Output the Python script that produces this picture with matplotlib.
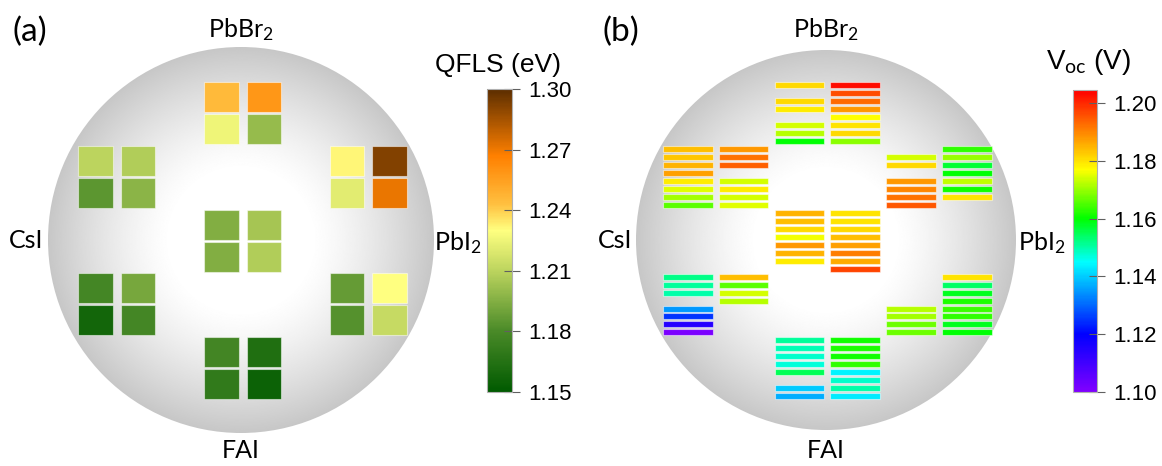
import numpy as np
import matplotlib
matplotlib.use("Agg")
import matplotlib.pyplot as plt
from matplotlib.colors import LinearSegmentedColormap, Normalize
from matplotlib.patches import Rectangle, Circle
from matplotlib.cm import ScalarMappable

plt.rcParams['mathtext.fontset'] = 'custom'
plt.rcParams['mathtext.rm'] = 'Lato'
plt.rcParams['mathtext.it'] = 'Lato:italic'

nan = np.nan

# ---- (a) QFLS (eV), each group is 2x2 cells [row][col] ----
qfls_top = [[1.245, 1.258], [1.225, 1.200]]
qfls_upper_left = [[1.210, 1.207], [1.185, 1.197]]
qfls_upper_right = [[1.232, 1.292], [1.221, 1.271]]
qfls_center = [[1.195, 1.204], [1.195, 1.207]]
qfls_lower_left = [[1.178, 1.192], [1.158, 1.178]]
qfls_lower_right = [[1.187, 1.230], [1.183, 1.213]]
qfls_bottom = [[1.177, 1.163], [1.170, 1.155]]

# ---- (b) Voc (V), each group is 8 strips x 2 columns, nan = missing ----
voc_top = [[1.181, 1.203], [nan, 1.196], [1.181, 1.193], [1.179, 1.188],
           [nan, 1.177], [1.174, 1.180], [1.172, 1.181], [1.160, 1.169]]
voc_upper_left = [[1.184, 1.188], [1.183, 1.192], [1.185, 1.194], [1.187, nan],
                  [1.179, 1.174], [1.175, 1.179], [1.171, 1.174], [1.166, 1.175]]
voc_upper_right = [[nan, 1.163], [1.174, 1.170], [1.181, 1.157], [nan, 1.160],
                   [1.188, 1.173], [1.190, 1.161], [1.192, 1.180], [1.195, nan]]
voc_center = [[1.185, 1.180], [1.184, 1.180], [1.181, 1.181], [1.176, 1.184],
              [1.188, 1.187], [1.185, 1.191], [1.179, 1.186], [nan, 1.197]]
voc_lower_left = [[1.152, 1.184], [1.151, 1.166], [1.150, 1.174], [nan, 1.172],
                  [1.135, nan], [1.125, nan], [1.114, nan], [1.101, nan]]
voc_lower_right = [[nan, 1.180], [nan, 1.154], [nan, 1.158], [nan, 1.162],
                   [1.172, 1.164], [1.171, 1.163], [1.167, 1.158], [1.167, 1.160]]
voc_bottom = [[1.151, 1.161], [1.149, 1.162], [1.148, 1.161], [1.147, 1.163],
              [1.155, 1.144], [nan, 1.148], [1.140, 1.150], [1.137, 1.143]]

qfls_groups = [qfls_top, qfls_upper_left, qfls_upper_right, qfls_center,
               qfls_lower_left, qfls_lower_right, qfls_bottom]
voc_groups = [voc_top, voc_upper_left, voc_upper_right, voc_center,
              voc_lower_left, voc_lower_right, voc_bottom]
# where each group sits on the wafer (block row, block column)
group_rows = [0, 1, 1, 2, 3, 3, 4]
group_cols = [1, 0, 2, 1, 0, 2, 1]

qfls_ticks = [1.15, 1.18, 1.21, 1.24, 1.27, 1.30]
voc_ticks = [1.10, 1.12, 1.14, 1.16, 1.18, 1.20]

# colour maps
cmap_a = LinearSegmentedColormap.from_list("qfls", [
    (0.0, "#005a00"), (0.2, "#4a8a28"), (0.4, "#bcd45e"), (0.533, "#ffff80"),
    (0.62, "#ffc040"), (0.78, "#ff8000"), (1.0, "#5c2e00")])
norm_a = Normalize(1.15, 1.30)
cmap_b = LinearSegmentedColormap.from_list("voc", [
    (0.0, "#8000ff"), (0.19, "#0000ff"), (0.43, "#00ffff"), (0.574, "#00ff00"),
    (0.737, "#ffff00"), (1.0, "#ff0000")])
norm_b = Normalize(1.10, 1.2045)

fig = plt.figure(figsize=(11.62, 4.66), dpi=100)
ax = fig.add_axes([0, 0, 1, 1])
ax.set_xlim(0, 1162)
ax.set_ylim(466, 0)
ax.axis("off")


def wafer(cx, cy, r):
    n = 500
    yy, xx = np.mgrid[-1:1:n * 1j, -1:1:n * 1j]
    d = np.sqrt(xx ** 2 + yy ** 2)
    s = np.clip((d - 0.36) / 0.64, 0, 1)
    shade = 1 - 0.22 * s ** 1.3
    im = ax.imshow(shade, cmap="gray", vmin=0, vmax=1,
                   extent=[cx - r, cx + r, cy + r, cy - r], zorder=1)
    im.set_clip_path(Circle((cx, cy), r, transform=ax.transData))


wafer(241, 240, 193)
wafer(826, 240, 190)

row_y0 = 82.0
row_pitch = 31.9

# (a) 2x2 cells
a_pair_x = [78, 204, 329.5]
a_col_step = 42.5
a_w, a_h = 34.5, 30.0
for g, cells in enumerate(qfls_groups):
    for i in range(2):
        for j in range(2):
            v = cells[i][j]
            x = a_pair_x[group_cols[g]] + j * a_col_step
            y = row_y0 + (2 * group_rows[g] + i) * row_pitch
            ax.add_patch(Rectangle((x, y), a_w, a_h, facecolor=cmap_a(norm_a(v)),
                                   edgecolor=(1, 1, 1, 0.5), lw=0.8, zorder=3))

# (b) strips
b_x0 = 663
b_col_step = 55.8
b_w, b_h = 49.5, 6.0
strip_pitch = row_pitch / 4
for g, strips in enumerate(voc_groups):
    for i in range(8):
        for j in range(2):
            v = strips[i][j]
            if np.isnan(v):
                continue
            x = b_x0 + (2 * group_cols[g] + j) * b_col_step
            y = row_y0 + 0.2 + (8 * group_rows[g] + i) * strip_pitch
            ax.add_patch(Rectangle((x, y), b_w, b_h, facecolor=cmap_b(norm_b(v)),
                                   edgecolor=(1, 1, 1, 0.5), lw=0.8, zorder=3))

# labels
lab = dict(family="Lato", fontsize=18, color="black")
ax.text(13, 32, "(a)", ha="left", va="center", family="Lato", fontsize=24)
ax.text(603, 32, "(b)", ha="left", va="center", family="Lato", fontsize=24)
for cx, right in [(241, 434), (826, 1018)]:
    ax.text(cx, 30, r"PbBr$_\mathrm{2}$", ha="center", va="center", **lab)
    ax.text(cx, 451, "FAI", ha="center", va="center", **lab)
    ax.text(right, 243, r"PbI$_\mathrm{2}$", ha="left", va="center", **lab)
ax.text(43, 240, "CsI", ha="right", va="center", **lab)
ax.text(632, 240, "CsI", ha="right", va="center", **lab)

ax.text(498, 65, "QFLS (eV)", ha="center", va="center",
        family="Liberation Sans", fontsize=19)
ax.text(1088, 62, r"V$_\mathrm{oc}$ (V)", ha="center", va="center",
        family="Liberation Sans", fontsize=20)

# colour bars
W, H = 1162, 466
for (x0, x1, y0, y1), cmap, norm, ticks in [
        ((487.5, 512, 89, 392), cmap_a, norm_a, qfls_ticks),
        ((1073, 1097, 90, 392), cmap_b, norm_b, voc_ticks)]:
    cax = fig.add_axes([x0 / W, 1 - y1 / H, (x1 - x0) / W, (y1 - y0) / H])
    cb = fig.colorbar(ScalarMappable(norm=norm, cmap=cmap), cax=cax, ticks=ticks)
    cb.ax.set_yticklabels([f"{t:.2f}" for t in ticks])
    cb.outline.set_edgecolor("#b0b0b0")
    cb.outline.set_linewidth(0.8)
    cb.ax.tick_params(direction="inout", length=11, width=0.8, color="#606060",
                      labelsize=16, pad=6)
    for t in cb.ax.get_yticklabels():
        t.set_family("Liberation Sans")

fig.savefig("out.png", dpi=100)
